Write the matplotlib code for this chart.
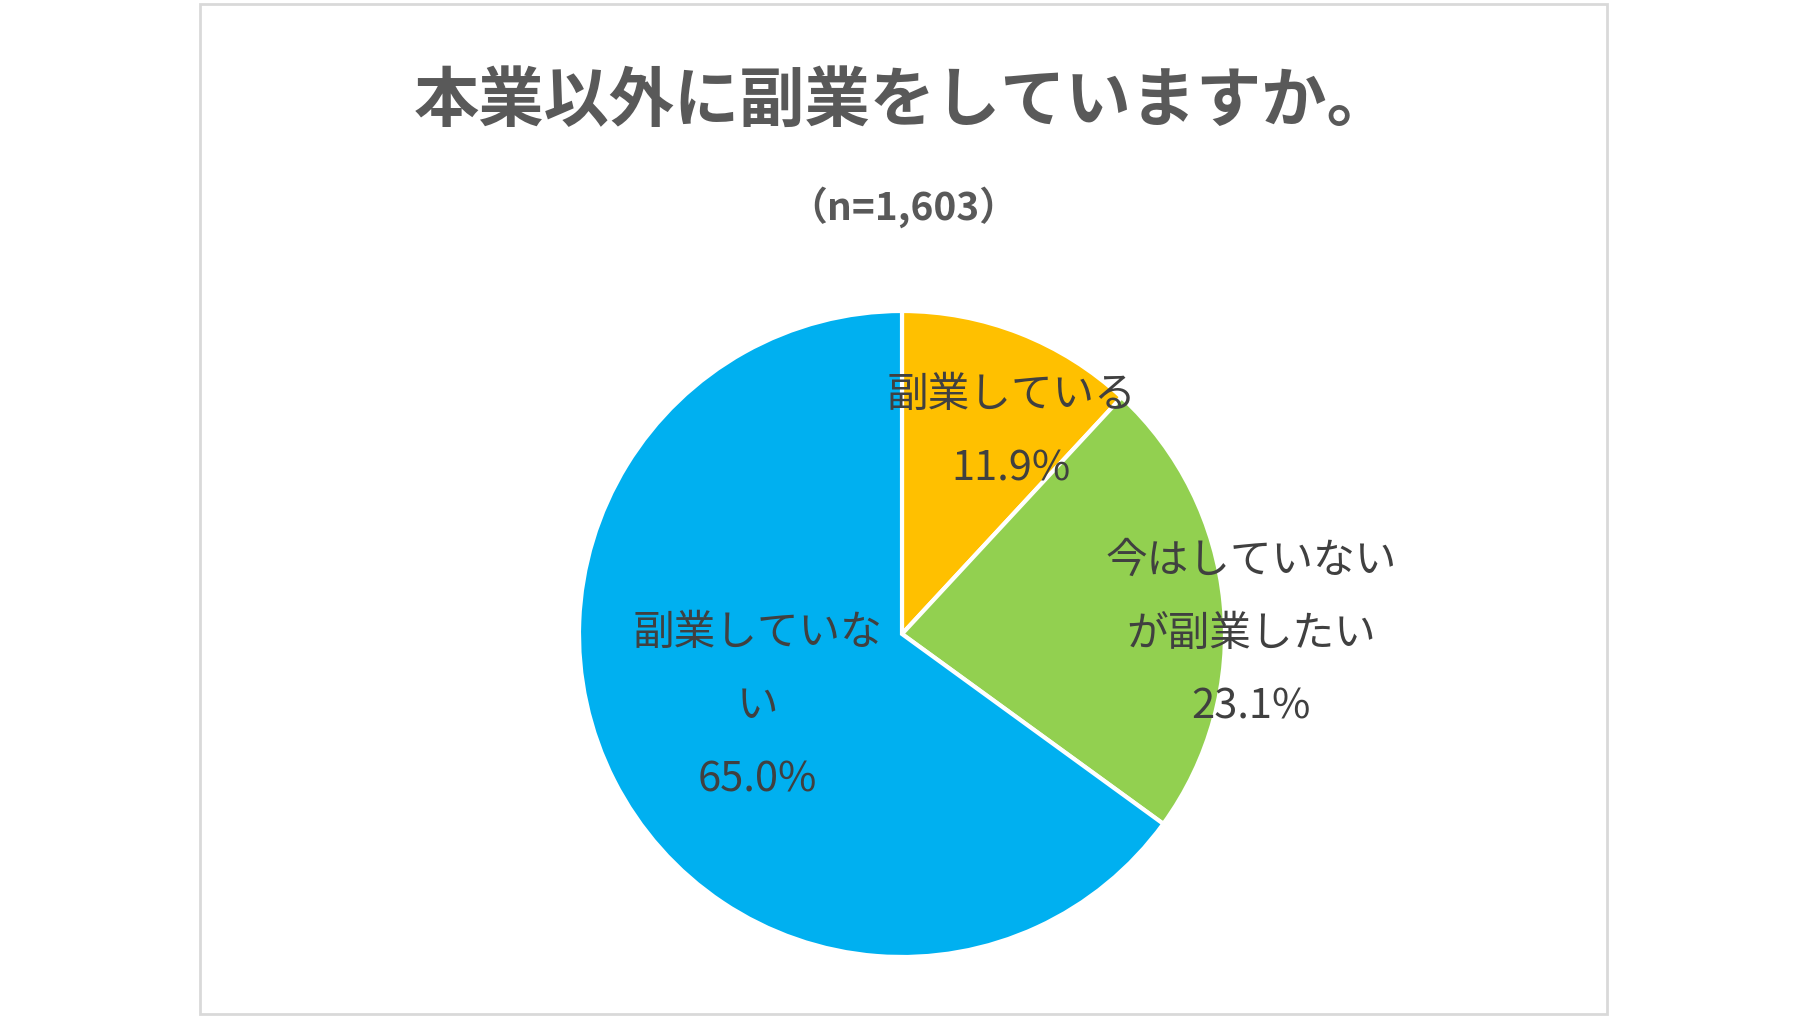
import numpy as np
import matplotlib
matplotlib.use("Agg")
import matplotlib.pyplot as plt
from matplotlib.patches import Rectangle

plt.rcParams['font.family'] = ['Noto Sans CJK JP', 'DejaVu Sans']

title = "本業以外に副業をしていますか。"
subtitle = "（n=1,603）"
categories = ["副業している", "今はしていない\nが副業したい", "副業していな\nい"]
values = [11.9, 23.1, 65.0]
colors = ["#FFC000", "#92D050", "#00B0F0"]
# label placement (angle deg, distance as fraction of radius)
label_pos = [(61.6, 0.71), (0.0, 1.08), (206.7, 0.50)]

W, H = 1807, 1018
fig = plt.figure(figsize=(W/100, H/100), dpi=100)
ax = fig.add_axes([0, 0, 1, 1])

ax.add_patch(Rectangle((200, 4), 1407, 1010, fill=False, ec="#D9D9D9", lw=2))
grey = "#595959"
ax.text(903, H-101, title, ha='center', va='center', fontsize=47, fontweight='bold', color=grey)
ax.text(903, H-207, subtitle, ha='center', va='center', fontsize=28, fontweight='bold', color=grey)

cx, cy, R = 902, H-634, 323
ax.pie(values, colors=colors, startangle=90, counterclock=False, center=(cx, cy), radius=R,
       wedgeprops=dict(edgecolor='white', linewidth=3), frame=True)
ax.set_xlim(0, W); ax.set_ylim(0, H); ax.set_aspect('equal'); ax.axis('off')

for cat, v, (ang, d) in zip(categories, values, label_pos):
    x = cx + d*R*np.cos(np.radians(ang)); y = cy + d*R*np.sin(np.radians(ang))
    ax.text(x, y, f"{cat}\n{v:.1f}%", ha='center', va='center', fontsize=30,
            color="#404040", linespacing=2.0)

fig.savefig("out.png", dpi=100)
